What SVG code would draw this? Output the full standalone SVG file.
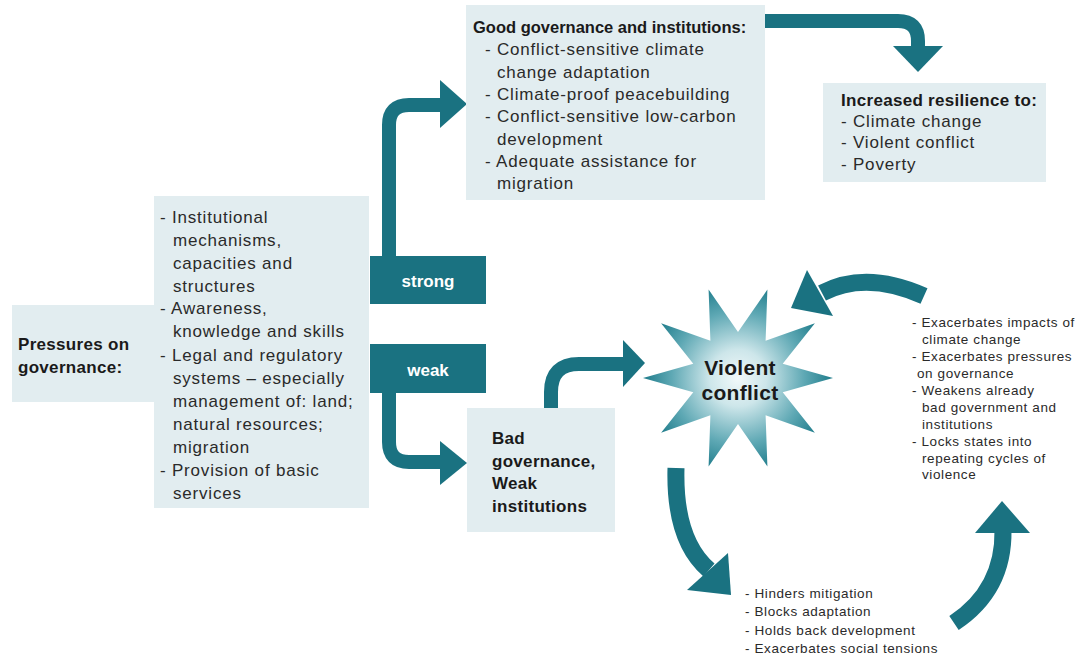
<svg xmlns="http://www.w3.org/2000/svg" width="1080" height="655" viewBox="0 0 1080 655">
<defs>
<radialGradient id="starGrad" gradientUnits="userSpaceOnUse" cx="738" cy="378" r="95">
<stop offset="0" stop-color="#f2f9fa"/>
<stop offset="0.3" stop-color="#cde6ea"/>
<stop offset="0.7" stop-color="#5ea8b4"/>
<stop offset="1" stop-color="#1f7c8b"/>
</radialGradient>
<style>
.box{fill:#e2edf0}
.tb{fill:#1a7281}
.t{font-family:"Liberation Sans",Arial,sans-serif;font-size:17px;fill:#2a2a2a;letter-spacing:0.8px}
.b{font-family:"Liberation Sans",Arial,sans-serif;font-size:17px;font-weight:bold;fill:#1a1a1a;letter-spacing:0.3px}
.w{font-family:"Liberation Sans",Arial,sans-serif;font-size:17px;font-weight:bold;fill:#ffffff;text-anchor:middle}
.s{font-family:"Liberation Sans",Arial,sans-serif;font-size:13.5px;fill:#2a2a2a;letter-spacing:0.6px}
.shaft{fill:none;stroke:#1a7281;stroke-width:14}
.cshaft{fill:none;stroke:#1a7281;stroke-width:17}
.head{fill:#1a7281}
</style>
</defs>
<rect width="1080" height="655" fill="#ffffff"/>

<g id="connectors">
<path class="shaft" d="M 764 21 H 898 Q 918 21 918 41 V 48"/>
<polygon class="head" points="893,46 943,46 918,72"/>
<path class="shaft" d="M 389 257 V 125 Q 389 105 409 105 H 442"/>
<polygon class="head" points="440,80 467,104 440,128"/>
<path class="shaft" d="M 389 392 V 442 Q 389 462 409 462 H 442"/>
<polygon class="head" points="440,441 467,463 440,485"/>
<path class="shaft" d="M 551 410 V 392 Q 551 364 579 364 H 625"/>
<polygon class="head" points="623,340 645,363 623,387"/>
<path class="cshaft" d="M 924 296 Q 866 270 822 293"/>
<polygon class="head" points="807,270 791,308 833,316"/>
<path class="cshaft" d="M 676 468 Q 674 540 709 570"/>
<polygon class="head" points="728,553 687,590 731,595"/>
<path class="cshaft" d="M 954 623 Q 1004 590 1003 530"/>
<polygon class="head" points="975,533 1030,533 1002,501"/>
</g>

<g id="pressures">
<rect class="box" x="12" y="305" width="150" height="97"/>
<text class="b" x="18" y="350">Pressures on</text>
<text class="b" x="18" y="373">governance:</text>
</g>

<g id="factors">
<rect class="box" x="154" y="196" width="215" height="312"/>
<text class="t" x="160" y="223">- Institutional</text>
<text class="t" x="173" y="246">mechanisms,</text>
<text class="t" x="173" y="269">capacities and</text>
<text class="t" x="173" y="292">structures</text>
<text class="t" x="160" y="314">- Awareness,</text>
<text class="t" x="173" y="337">knowledge and skills</text>
<text class="t" x="160" y="361">- Legal and regulatory</text>
<text class="t" x="173" y="384">systems – especially</text>
<text class="t" x="173" y="407">management of: land;</text>
<text class="t" x="173" y="430">natural resources;</text>
<text class="t" x="173" y="453">migration</text>
<text class="t" x="160" y="476">- Provision of basic</text>
<text class="t" x="173" y="499">services</text>
</g>

<g id="strong">
<rect class="tb" x="370" y="256" width="116" height="48"/>
<text class="w" x="428" y="287">strong</text>
</g>

<g id="weak">
<rect class="tb" x="370" y="344" width="116" height="49"/>
<text class="w" x="428" y="376">weak</text>
</g>

<g id="good-governance">
<rect class="box" x="466" y="5" width="299" height="195"/>
<text class="b" x="473" y="33" style="font-size:16.5px;letter-spacing:0px">Good governance and institutions:</text>
<text class="t" x="485" y="55">- Conflict-sensitive climate</text>
<text class="t" x="497" y="78">change adaptation</text>
<text class="t" x="485" y="100">- Climate-proof peacebuilding</text>
<text class="t" x="485" y="122">- Conflict-sensitive low-carbon</text>
<text class="t" x="497" y="145">development</text>
<text class="t" x="485" y="167">- Adequate assistance for</text>
<text class="t" x="497" y="189">migration</text>
</g>

<g id="resilience">
<rect class="box" x="823" y="83" width="223" height="99"/>
<text class="b" x="841" y="106">Increased resilience to:</text>
<text class="t" x="841" y="127">- Climate change</text>
<text class="t" x="841" y="148">- Violent conflict</text>
<text class="t" x="841" y="170">- Poverty</text>
</g>

<g id="bad-governance">
<rect class="box" x="467" y="408" width="148" height="124"/>
<text class="b" x="492" y="444">Bad</text>
<text class="b" x="492" y="467">governance,</text>
<text class="b" x="492" y="489">Weak</text>
<text class="b" x="492" y="512">institutions</text>
</g>

<g id="violent-conflict">
<polygon fill="url(#starGrad)" points="833,378 782.7,363.8 814.9,323.3 765.6,340.8 767.4,289.6 738,332 708.6,289.6 710.4,340.8 661.1,323.3 693.3,363.8 643,378 693.3,392.2 661.1,432.7 710.4,415.2 708.6,466.4 738,424 767.4,466.4 765.6,415.2 814.9,432.7 782.7,392.2"/>
<text class="b" x="740" y="375" text-anchor="middle" style="font-size:21px">Violent</text>
<text class="b" x="740" y="400" text-anchor="middle" style="font-size:21px">conflict</text>
</g>

<g id="feedback-effects">
<text class="s" x="912" y="327">- Exacerbates impacts of</text>
<text class="s" x="922" y="344">climate change</text>
<text class="s" x="912" y="361">- Exacerbates pressures</text>
<text class="s" x="917" y="378">on governance</text>
<text class="s" x="912" y="395">- Weakens already</text>
<text class="s" x="922" y="412">bad government and</text>
<text class="s" x="922" y="429">institutions</text>
<text class="s" x="912" y="446">- Locks states into</text>
<text class="s" x="922" y="463">repeating cycles of</text>
<text class="s" x="922" y="479">violence</text>
</g>

<g id="development-effects">
<text class="s" x="745" y="598">- Hinders mitigation</text>
<text class="s" x="745" y="616">- Blocks adaptation</text>
<text class="s" x="745" y="635">- Holds back development</text>
<text class="s" x="745" y="653">- Exacerbates social tensions</text>
</g>
</svg>
